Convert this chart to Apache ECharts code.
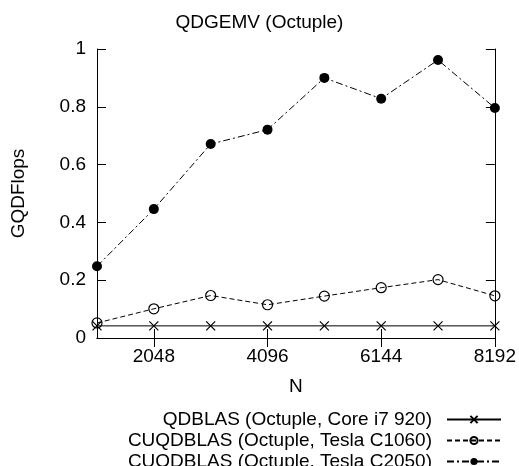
<!DOCTYPE html>
<html>
<head>
<meta charset="utf-8">
<script src="https://cdn.jsdelivr.net/npm/echarts@6/dist/echarts.min.js"></script>
<style>html,body{margin:0;padding:0;background:#fff}#c{width:519px;height:466px}</style>
</head>
<body>
<div id="c"></div>
<script>
const categories = ['1024','2048','3072','4096','5120','6144','7168','8192'];
const coreI7 = [0.042,0.042,0.042,0.042,0.042,0.042,0.042,0.042];
const teslaC1060 = [0.052,0.101,0.147,0.115,0.145,0.174,0.202,0.146];
const teslaC2050 = [0.248,0.446,0.671,0.721,0.900,0.828,0.962,0.796];
const seriesNames = ['QDBLAS (Octuple, Core i7 920)','CUQDBLAS (Octuple, Tesla C1060)','CUQDBLAS (Octuple, Tesla C2050)'];

const FONT = '"Liberation Sans", Arial, sans-serif';
const FS = 19;
const chart = echarts.init(document.getElementById('c'), null, {renderer:'canvas'});
const showOdd = (i) => i % 2 === 1;
const axisLineStyle = {show:true, lineStyle:{color:'#000', width:1}};
chart.setOption({
  animation:false,
  backgroundColor:'#fff',
  title:{text:'QDGEMV (Octuple)', left:'center', top:8, textStyle:{fontFamily:FONT, fontSize:FS, fontWeight:'normal', color:'#000'}},
  legend:{
    orient:'vertical', align:'right', right:17, top:409, padding:0, height:100,
    itemWidth:54, itemHeight:9, itemGap:0,
    textStyle:{fontFamily:FONT, fontSize:FS, color:'#000', lineHeight:21, padding:[0,10,0,0]},
    data:seriesNames
  },
  grid:{left:97, right:24, top:49, bottom:128},
  xAxis:[{
    type:'category', data:categories, boundaryGap:false, position:'bottom',
    name:'N', nameLocation:'middle', nameGap:39,
    nameTextStyle:{fontFamily:FONT, fontSize:FS, color:'#000'},
    axisLine:axisLineStyle,
    axisTick:{show:true, inside:true, length:9, interval:showOdd, lineStyle:{color:'#000'}},
    axisLabel:{interval:showOdd, margin:9, fontFamily:FONT, fontSize:FS, color:'#000'},
    splitLine:{show:false}
  },{
    type:'category', data:categories, boundaryGap:false, position:'top',
    axisLine:axisLineStyle,
    axisTick:{show:true, inside:true, length:9, interval:showOdd, lineStyle:{color:'#000'}},
    axisLabel:{show:false}, splitLine:{show:false}
  }],
  yAxis:[{
    type:'value', min:0, max:1, interval:0.2, position:'left',
    name:'GQDFlops', nameLocation:'middle', nameGap:69, nameRotate:90,
    nameTextStyle:{fontFamily:FONT, fontSize:FS, color:'#000'},
    axisLine:axisLineStyle,
    axisTick:{show:true, inside:true, length:9, lineStyle:{color:'#000'}},
    axisLabel:{margin:11, fontFamily:FONT, fontSize:FS, color:'#000'},
    splitLine:{show:false}
  },{
    type:'value', min:0, max:1, interval:0.2, position:'right',
    axisLine:axisLineStyle,
    axisTick:{show:true, inside:true, length:9, lineStyle:{color:'#000'}},
    axisLabel:{show:false}, splitLine:{show:false}
  }],
  series:[{
    name:seriesNames[0], type:'line', data:coreI7,
    symbol:'path://M0,0L10,10M10,0L0,10', symbolSize:9,
    itemStyle:{color:'transparent', borderColor:'#000', borderWidth:1.2},
    lineStyle:{color:'#000', width:1, type:'solid'}
  },{
    name:seriesNames[1], type:'line', data:teslaC1060,
    symbol:'circle', symbolSize:10,
    itemStyle:{color:'transparent', borderColor:'#000', borderWidth:1.2},
    lineStyle:{color:'#000', width:1, type:[5,3]}
  },{
    name:seriesNames[2], type:'line', data:teslaC2050,
    symbol:'circle', symbolSize:10,
    itemStyle:{color:'#000', borderColor:'#000', borderWidth:0},
    lineStyle:{color:'#000', width:1, type:[7,3,2,3]}
  }]
});
</script>
</body>
</html>
